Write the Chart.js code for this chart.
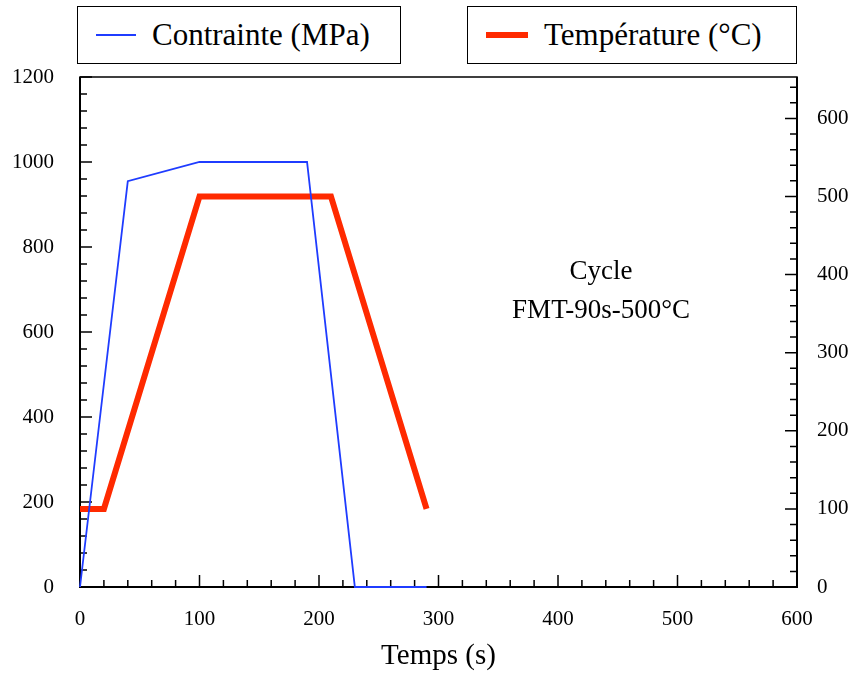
<!DOCTYPE html>
<html>
<head>
<meta charset="utf-8">
<script src="https://cdn.jsdelivr.net/npm/chart.js@4.4.1/dist/chart.umd.min.js"></script>
<style>
  html, body { margin: 0; padding: 0; background: #fff; }
  #wrap { position: relative; width: 851px; height: 678px; }
  .legbox {
    position: absolute; top: 6px; height: 58px; border: 1.5px solid #000;
    font-family: "Liberation Serif", serif; font-size: 31px; color: #000;
    display: flex; align-items: center; box-sizing: border-box; background: #fff;
  }
  .legbox span.sw { display: inline-block; margin: 0 16px 0 18px; }
</style>
</head>
<body>
<div id="wrap">
  <canvas id="chart" width="851" height="678"></canvas>
  <div class="legbox" style="left:77px; width:324px;">
    <span class="sw" style="width:40px; height:2px; background:#1f3cff;"></span>Contrainte (MPa)
  </div>
  <div class="legbox" style="left:467px; width:330px;">
    <span class="sw" style="width:42px; height:6px; background:#ff2a00;"></span>Température (°C)
  </div>
</div>
<script>
// temps (s) et valeurs
const stressTime = [0, 40, 100, 190, 230, 290];
const stressValues = [0, 955, 1000, 1000, 0, 0];
const tempTime = [0, 20, 100, 210, 290];
const tempValues = [100, 100, 500, 500, 100];

const xTicks = [0, 100, 200, 300, 400, 500, 600];
const leftTicks = [0, 200, 400, 600, 800, 1000, 1200];
const rightTicks = [0, 100, 200, 300, 400, 500, 600];

const serif = '"Liberation Serif", serif';

// cadre + graduations vers l'intérieur (dessinés sous les courbes)
const framePlugin = {
  id: 'frame',
  beforeDatasetsDraw(chart) {
    const { ctx, chartArea: a, scales } = chart;
    ctx.save();
    ctx.strokeStyle = '#000';
    ctx.lineWidth = 1.5;
    ctx.strokeRect(a.left, a.top, a.right - a.left, a.bottom - a.top);
    ctx.lineWidth = 2;
    ctx.beginPath();
    ctx.moveTo(a.left, a.top); ctx.lineTo(a.left, a.bottom); ctx.lineTo(a.right, a.bottom); ctx.lineTo(a.right, a.top);
    ctx.stroke();
    ctx.lineWidth = 1.5;
    ctx.beginPath();
    for (let v = 0; v <= 600; v += 20) {
      const px = scales.x.getPixelForValue(v);
      const len = v % 100 === 0 ? 12 : 7;
      ctx.moveTo(px, a.bottom); ctx.lineTo(px, a.bottom - len);
    }
    for (let v = 0; v <= 1200; v += 40) {
      const py = scales.y.getPixelForValue(v);
      const len = v % 200 === 0 ? 12 : 7;
      ctx.moveTo(a.left, py); ctx.lineTo(a.left + len, py);
    }
    for (let v = 0; v <= scales.y2.max; v += 20) {
      const py = scales.y2.getPixelForValue(v);
      const len = v % 100 === 0 ? 12 : 7;
      ctx.moveTo(a.right, py); ctx.lineTo(a.right - len, py);
    }
    ctx.stroke();

    ctx.fillStyle = '#000';
    ctx.font = '27px ' + serif;
    ctx.textAlign = 'center';
    ctx.textBaseline = 'alphabetic';
    ctx.fillText('Cycle', scales.x.getPixelForValue(436), scales.y.getPixelForValue(725));
    ctx.fillText('FMT-90s-500°C', scales.x.getPixelForValue(436), scales.y.getPixelForValue(632));
    ctx.restore();
  }
};

const plain = v => String(v);

new Chart(document.getElementById('chart'), {
  type: 'line',
  data: {
    datasets: [{
      label: 'Contrainte (MPa)',
      data: stressTime.map((t, i) => ({ x: t, y: stressValues[i] })),
      borderColor: '#1f3cff',
      borderWidth: 1.8,
      pointRadius: 0,
      tension: 0,
      clip: 4,
      yAxisID: 'y'
    }, {
      label: 'Température (°C)',
      data: tempTime.map((t, i) => ({ x: t, y: tempValues[i] })),
      borderColor: '#ff2a00',
      borderWidth: 6,
      pointRadius: 0,
      tension: 0,
      clip: 4,
      yAxisID: 'y2'
    }]
  },
  options: {
    responsive: false,
    animation: false,
    layout: { padding: { top: 77 } },
    plugins: { legend: { display: false }, tooltip: { enabled: false } },
    scales: {
      x: {
        type: 'linear', min: 0, max: 600,
        afterBuildTicks: s => { s.ticks = xTicks.map(v => ({ value: v })); },
        afterFit: s => { s.height = 91; },
        grid: { display: false }, border: { display: false },
        ticks: { color: '#000', padding: 12, callback: plain, font: { family: serif, size: 21 } },
        title: { display: true, text: 'Temps (s)', color: '#000', padding: { top: 4 }, font: { family: serif, size: 29 } }
      },
      y: {
        position: 'left', min: 0, max: 1200,
        afterBuildTicks: s => { s.ticks = leftTicks.map(v => ({ value: v })); },
        afterFit: s => { s.width = 80; },
        grid: { display: false }, border: { display: false },
        ticks: { color: '#000', padding: 18, callback: plain, font: { family: serif, size: 21 } }
      },
      y2: {
        position: 'right', min: 0, max: 653,
        afterBuildTicks: s => { s.ticks = rightTicks.map(v => ({ value: v })); },
        afterFit: s => { s.width = 54; },
        grid: { display: false }, border: { display: false },
        ticks: { color: '#000', padding: 12, callback: plain, font: { family: serif, size: 21 } }
      }
    }
  },
  plugins: [framePlugin]
});
</script>
</body>
</html>
